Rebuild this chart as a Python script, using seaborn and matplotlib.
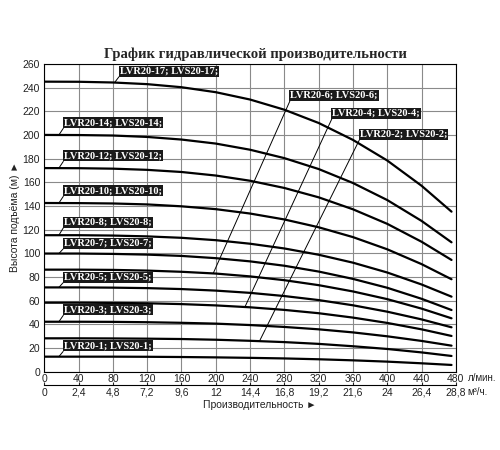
import numpy as np
import pandas as pd
import seaborn as sns
import matplotlib.pyplot as plt

flow = [0, 40, 80, 120, 160, 200, 240, 280, 320, 360, 400, 440, 475]

# head (m) for each pump model
head_1 = [12.7, 12.7, 12.7, 12.6, 12.4, 12.1, 11.7, 11.2, 10.5, 9.6, 8.5, 7.1, 5.7]
head_2 = [28.2, 28.2, 28.1, 27.9, 27.6, 27.0, 26.1, 25.0, 23.5, 21.5, 19.2, 16.3, 13.3]
head_3 = [42.2, 42.2, 42.1, 41.8, 41.3, 40.6, 39.4, 37.8, 35.8, 33.2, 29.9, 26.0, 22.0]
head_4 = [58.3, 58.3, 58.1, 57.8, 57.1, 56.0, 54.4, 52.2, 49.4, 45.7, 41.2, 35.8, 30.2]
head_5 = [71.2, 71.2, 71.0, 70.6, 69.8, 68.5, 66.6, 63.9, 60.5, 56.1, 50.7, 44.2, 37.5]
head_6 = [86.2, 86.2, 86.0, 85.4, 84.4, 82.9, 80.5, 77.3, 73.1, 67.8, 61.3, 53.3, 45.1]
head_7 = [99.8, 99.8, 99.5, 98.9, 97.8, 95.9, 93.2, 89.5, 84.6, 78.4, 70.9, 61.6, 52.1]
head_8 = [115.3, 115.3, 115.0, 114.3, 113.1, 111.1, 108.1, 104.1, 98.8, 92.1, 83.8, 73.7, 63.4]
head_10 = [142.5, 142.4, 142.1, 141.3, 139.7, 137.3, 133.6, 128.6, 122.0, 113.7, 103.4, 90.9, 78.1]
head_12 = [172.0, 171.9, 171.5, 170.5, 168.7, 165.7, 161.3, 155.2, 147.3, 137.2, 124.9, 109.8, 94.4]
head_14 = [200.0, 199.9, 199.5, 198.3, 196.1, 192.7, 187.5, 180.4, 171.2, 159.4, 145.0, 127.4, 109.3]
head_17 = [245.0, 244.9, 244.3, 242.9, 240.3, 236.1, 229.9, 221.3, 210.1, 195.8, 178.4, 157.1, 135.2]

models = ["LVR20-1; LVS20-1;", "LVR20-2; LVS20-2;", "LVR20-3; LVS20-3;",
          "LVR20-4; LVS20-4;", "LVR20-5; LVS20-5;", "LVR20-6; LVS20-6;",
          "LVR20-7; LVS20-7;", "LVR20-8; LVS20-8;", "LVR20-10; LVS20-10;",
          "LVR20-12; LVS20-12;", "LVR20-14; LVS20-14;", "LVR20-17; LVS20-17;"]
heads = [head_1, head_2, head_3, head_4, head_5, head_6,
         head_7, head_8, head_10, head_12, head_14, head_17]

# label box corner (l/min, m) and where its leader touches the curve (l/min)
label_x = [23, 368, 23, 336, 23, 287, 23, 23, 23, 23, 23, 88]
label_y = [18, 196.5, 48.5, 214.5, 76, 229.5, 104.5, 122.5, 149, 178.5, 206.5, 250]
leader_x = [17, 251, 17, 234, 17, 197, 17, 17, 17, 17, 17, 82]

x_ticks = [0, 40, 80, 120, 160, 200, 240, 280, 320, 360, 400, 440, 480]
m3h_ticks = [0, 2.4, 4.8, 7.2, 9.6, 12, 14.4, 16.8, 19.2, 21.6, 24, 26.4, 28.8]
m3h_labels = ["0", "2,4", "4,8", "7,2", "9,6", "12", "14,4", "16,8", "19,2",
              "21,6", "24", "26,4", "28,8"]
y_ticks = list(range(0, 261, 20))

sns.set_theme(style="white")
plt.rcParams['font.family'] = ['Liberation Sans', 'DejaVu Sans']

frames = []
for name, h in zip(models, heads):
    frames.append(pd.DataFrame({"flow": flow, "head": h, "model": name}))
df = pd.concat(frames, ignore_index=True)

fig = plt.figure(figsize=(5, 4.5), dpi=100)
ax = fig.add_axes([0.0886, 0.174, 0.823, 0.684])

sns.lineplot(data=df, x="flow", y="head", units="model", estimator=None,
             color="black", lw=1.6, ax=ax, legend=False)

ax.set_xlim(0, 480)
ax.set_ylim(0, 260)
ax.set_xticks(x_ticks)
ax.set_yticks(y_ticks)
ax.grid(True, color="#8a8a8a", lw=0.8)
ax.set_axisbelow(True)
for s in ax.spines.values():
    s.set_color("black")
    s.set_linewidth(0.8)
ax.tick_params(length=0, labelsize=7.5, labelcolor="#222222")
ax.tick_params(axis="x", pad=1.5)
ax.tick_params(axis="y", pad=3)
ax.set_xlabel("")
ax.set_ylabel("")

# second row: flow in m3/h
sec = ax.secondary_xaxis(-0.043, functions=(lambda q: q * 0.06, lambda q: q / 0.06))
sec.set_xticks(m3h_ticks)
sec.set_xticklabels(m3h_labels)
sec.tick_params(direction="in", length=2.5, width=0.8, labelsize=7.5, pad=2,
                labelcolor="#222222")
sec.spines["bottom"].set_linewidth(0.8)
sec.spines["bottom"].set_color("black")

ax.text(1.029, -0.0205, "л/мин.", transform=ax.transAxes, fontsize=7,
        va="center", ha="left", color="#222222")
ax.text(1.027, -0.066, "м³/ч.", transform=ax.transAxes, fontsize=7,
        va="center", ha="left", color="#222222")
ax.text(0.524, -0.108, "Производительность ►", transform=ax.transAxes,
        fontsize=7.5, va="center", ha="center", color="#222222")
ax.text(-0.071, 0.504, "Высота подъёма (м) ►", transform=ax.transAxes,
        fontsize=7.5, va="center", ha="center", rotation=90, color="#222222")

# model labels with leader lines
for i, name in enumerate(models):
    ty = np.interp(leader_x[i], flow, heads[i])
    ax.annotate(name, xy=(leader_x[i], ty), xytext=(label_x[i], label_y[i]),
                fontsize=7.5, fontweight="bold", family="Liberation Serif",
                color="white", ha="left", va="bottom",
                bbox=dict(boxstyle="square,pad=0.1", fc="#1a1a1a", ec="none"),
                arrowprops=dict(arrowstyle="-", color="black", lw=0.7,
                                relpos=(0, 0), shrinkA=0, shrinkB=0))

fig.text(0.51, 0.879, "График гидравлической производительности",
         family="Liberation Serif", fontweight="bold", fontsize=10.5,
         ha="center", va="center")

fig.savefig("out.png", dpi=100)
